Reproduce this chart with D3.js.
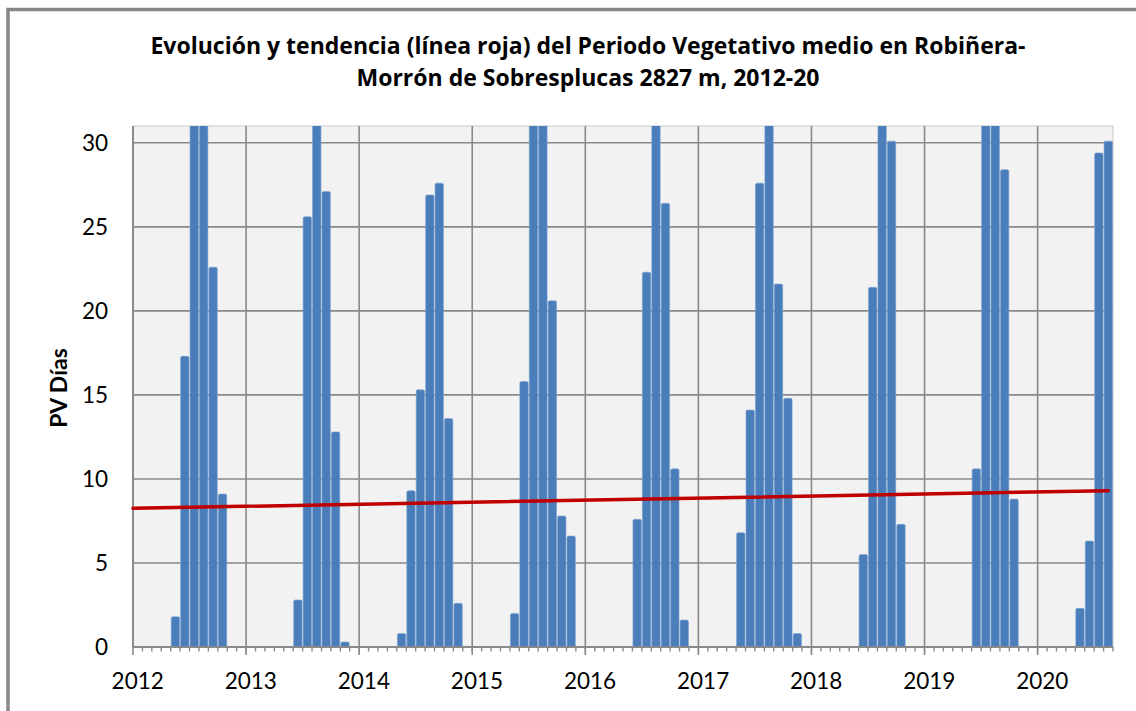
<!DOCTYPE html>
<meta charset="utf-8">

<!-- Load d3.js -->
<script src="https://d3js.org/d3.v7.min.js"></script>

<style>
    body { margin: 0; background: #fff; }
    text { font-family: Lato, "Open Sans", sans-serif; fill: #000; }
    text.title { font-family: "Open Sans", Lato, sans-serif; }
</style>
<body>
<div id="my_dataviz"></div>
<script>
    // monthly PV (days), Jan..Dec. Bars above 31 are cut off in the original chart
    var years = [2012, 2013, 2014, 2015, 2016, 2017, 2018, 2019, 2020];
    var pv2012 = [0, 0, 0, 0, 1.8, 17.3, 38, 36, 22.6, 9.1, 0, 0];
    var pv2013 = [0, 0, 0, 0, 0, 2.8, 25.6, 34, 27.1, 12.8, 0.3, 0];
    var pv2014 = [0, 0, 0, 0, 0.8, 9.3, 15.3, 26.9, 27.6, 13.6, 2.6, 0];
    var pv2015 = [0, 0, 0, 0, 2.0, 15.8, 37, 35, 20.6, 7.8, 6.6, 0];
    var pv2016 = [0, 0, 0, 0, 0, 7.6, 22.3, 36, 26.4, 10.6, 1.6, 0];
    var pv2017 = [0, 0, 0, 0, 6.8, 14.1, 27.6, 35, 21.6, 14.8, 0.8, 0];
    var pv2018 = [0, 0, 0, 0, 0, 5.5, 21.4, 36, 30.1, 7.3, 0, 0];
    var pv2019 = [0, 0, 0, 0, 0, 10.6, 37, 34, 28.4, 8.8, 0, 0];
    var pv2020 = [0, 0, 0, 0, 2.3, 6.3, 29.4, 30.1];
    var yTicks = [0, 5, 10, 15, 20, 25, 30];
    var yMax = 31;
    // trend line (red), read at first and last month
    var trendStart = 8.25, trendEnd = 9.3;

    var titleLines = ["Evolución y tendencia (línea roja) del Periodo Vegetativo medio en Robiñera-",
                      "Morrón de Sobresplucas 2827 m, 2012-20"];
    var yTitle = "PV Días";

    var perYear = [pv2012, pv2013, pv2014, pv2015, pv2016, pv2017, pv2018, pv2019, pv2020];
    var data = [];
    perYear.forEach(function(vals, i) {
        vals.forEach(function(v, m) {
            data.push({ year: years[i], month: m, key: years[i] + "-" + (m + 1), value: v });
        });
    });

    var W = 1136, H = 711;
    var plot = { left: 133, right: 1113, top: 126, bottom: 647 };

    var svg = d3.select("#my_dataviz")
        .append("svg")
        .attr("width", W)
        .attr("height", H);

    // outer chart frame (only left and top edges are in view)
    svg.append("rect")
        .attr("x", 8).attr("y", 9.5)
        .attr("width", W + 50).attr("height", H + 50)
        .attr("fill", "#fff")
        .attr("stroke", "#868686")
        .attr("stroke-width", 3.5);

    // scales
    var x = d3.scaleBand()
        .domain(data.map(function(d) { return d.key; }))
        .range([plot.left, plot.right])
        .padding(0);
    var y = d3.scaleLinear()
        .domain([0, yMax])
        .range([plot.bottom, plot.top]);

    // plot background
    svg.append("rect")
        .attr("x", plot.left).attr("y", plot.top)
        .attr("width", plot.right - plot.left)
        .attr("height", plot.bottom - plot.top)
        .attr("fill", "#f2f2f2");
    svg.append("path")
        .attr("d", "M" + plot.left + "," + plot.top + "H" + plot.right + "V" + plot.bottom)
        .attr("fill", "none")
        .attr("stroke", "#d9d9d9")
        .attr("stroke-width", 1.5);

    // horizontal grid
    svg.append("g")
        .selectAll("line")
        .data(yTicks.filter(function(t) { return t > 0; }))
        .enter()
        .append("line")
        .attr("x1", plot.left).attr("x2", plot.right)
        .attr("y1", function(d) { return y(d); })
        .attr("y2", function(d) { return y(d); })
        .attr("stroke", "#898989")
        .attr("stroke-width", 1.6);

    // vertical grid at each year start
    var yearStarts = data.filter(function(d) { return d.month === 0; });
    svg.append("g")
        .selectAll("line")
        .data(yearStarts)
        .enter()
        .append("line")
        .attr("x1", function(d) { return x(d.key); })
        .attr("x2", function(d) { return x(d.key); })
        .attr("y1", plot.top).attr("y2", plot.bottom + 8)
        .attr("stroke", "#898989")
        .attr("stroke-width", 1.6);

    // clip for bars cut at the top
    svg.append("clipPath")
        .attr("id", "plotclip")
        .append("rect")
        .attr("x", plot.left).attr("y", plot.top)
        .attr("width", plot.right - plot.left)
        .attr("height", plot.bottom - plot.top);

    // bars
    svg.append("g")
        .attr("clip-path", "url(#plotclip)")
        .selectAll("rect")
        .data(data.filter(function(d) { return d.value > 0; }))
        .enter()
        .append("rect")
        .attr("x", function(d) { return x(d.key) + 0.5; })
        .attr("y", function(d) { return y(d.value); })
        .attr("width", x.bandwidth() - 1)
        .attr("height", function(d) { return y(0) - y(d.value) + 2; })
        .attr("rx", 1.5)
        .attr("fill", "#4a7ebb")
        .attr("stroke", "#7ea3d3")
        .attr("stroke-width", 0.6);

    // x axis line and month ticks
    svg.append("line")
        .attr("x1", plot.left).attr("x2", plot.right)
        .attr("y1", plot.bottom).attr("y2", plot.bottom)
        .attr("stroke", "#898989")
        .attr("stroke-width", 1.8);
    svg.append("g")
        .selectAll("line")
        .data(data)
        .enter()
        .append("line")
        .attr("x1", function(d) { return x(d.key) + x.bandwidth(); })
        .attr("x2", function(d) { return x(d.key) + x.bandwidth(); })
        .attr("y1", plot.bottom)
        .attr("y2", plot.bottom + 4.5)
        .attr("stroke", "#898989")
        .attr("stroke-width", 1.4);

    // y axis line
    svg.append("line")
        .attr("x1", plot.left).attr("x2", plot.left)
        .attr("y1", plot.top).attr("y2", plot.bottom)
        .attr("stroke", "#898989")
        .attr("stroke-width", 1.8);

    // trend line
    var first = data[0], last = data[data.length - 1];
    svg.append("line")
        .attr("x1", x(first.key))
        .attr("x2", x(last.key) + x.bandwidth() / 2)
        .attr("y1", y(trendStart))
        .attr("y2", y(trendEnd))
        .attr("stroke", "#c00000")
        .attr("stroke-width", 3.5)
        .attr("stroke-linecap", "round");

    // x labels (centered on January)
    svg.append("g")
        .selectAll("text")
        .data(yearStarts)
        .enter()
        .append("text")
        .attr("x", function(d) { return x(d.key) + x.bandwidth() / 2; })
        .attr("y", 689)
        .attr("text-anchor", "middle")
        .style("font-size", "22.5px")
        .text(function(d) { return d.year; });

    // y labels
    svg.append("g")
        .selectAll("text")
        .data(yTicks)
        .enter()
        .append("text")
        .attr("x", 108)
        .attr("y", function(d) { return y(d); })
        .attr("dy", "0.36em")
        .attr("text-anchor", "end")
        .style("font-size", "22.5px")
        .text(function(d) { return d; });

    // y axis title
    svg.append("text")
        .attr("transform", "translate(67,388)rotate(-90)")
        .attr("text-anchor", "middle")
        .style("font-size", "23px")
        .style("font-weight", "bold")
        .text(yTitle);

    // title
    svg.append("g")
        .selectAll("text")
        .data(titleLines)
        .enter()
        .append("text")
        .attr("class", "title")
        .attr("x", 588)
        .attr("y", function(d, i) { return 54 + i * 32; })
        .attr("text-anchor", "middle")
        .style("font-size", "23px")
        .style("font-weight", "bold")
        .text(function(d) { return d; });
</script>
</body>
